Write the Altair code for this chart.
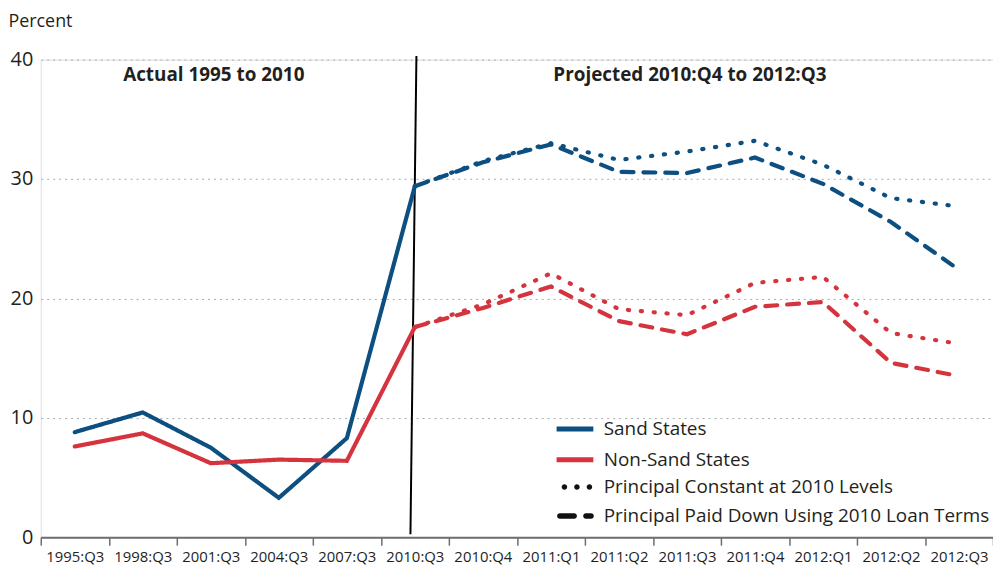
import altair as alt
import pandas as pd

categories = ["1995:Q3", "1998:Q3", "2001:Q3", "2004:Q3", "2007:Q3", "2010:Q3",
              "2010:Q4", "2011:Q1", "2011:Q2", "2011:Q3", "2011:Q4", "2012:Q1",
              "2012:Q2", "2012:Q3"]
actual_periods = categories[:6]
projected_periods = categories[5:]

sand_actual = [8.8, 10.45, 7.5, 3.3, 8.3, 29.4]
nonsand_actual = [7.6, 8.7, 6.2, 6.5, 6.4, 17.6]
sand_constant = [29.4, 31.5, 33.0, 31.6, 32.3, 33.2, 31.2, 28.4, 27.7]
sand_paid = [29.4, 31.4, 32.9, 30.6, 30.5, 31.8, 29.6, 26.4, 22.4]
nonsand_constant = [17.6, 19.5, 22.1, 19.1, 18.6, 21.3, 21.8, 17.1, 16.2]
nonsand_paid = [17.6, 19.2, 21.0, 18.1, 17.0, 19.3, 19.7, 14.6, 13.5]

regions = ["Sand States", "Non-Sand States"]
region_colors = ["#0c4f80", "#d5333e"]
styles = ["Actual", "Principal Constant at 2010 Levels",
          "Principal Paid Down Using 2010 Loan Terms"]

annotations = ["Actual 1995 to 2010", "Projected 2010:Q4 to 2012:Q3"]
annotation_periods = ["2001:Q3", "2011:Q3"]
annotation_y = [38.7, 38.7]

divider_x = [4.935, 5.023]   # bottom, top (category index units)
divider_y = [0.25, 40.3]

TEXT = "#231f20"
FONT = "Open Sans"


def dots_path(centers, r):
    parts = []
    for c in centers:
        parts.append("M%.3f,0A%.3f,%.3f 0 1,0 %.3f,0A%.3f,%.3f 0 1,0 %.3f,0Z"
                     % (c - r, r, r, c + r, r, r, c - r))
    return "".join(parts)


def dashes_path(spans, r):
    parts = []
    for x0, x1 in spans:
        parts.append("M%.3f,%.3fL%.3f,%.3fA%.3f,%.3f 0 0,1 %.3f,%.3fL%.3f,%.3fA%.3f,%.3f 0 0,1 %.3f,%.3fZ"
                     % (x0 + r, -r, x1 - r, -r, r, r, x1 - r, r, x0 + r, r, r, r, x0 + r, -r))
    return "".join(parts)


legend_dots = dots_path([-0.6, 0.08, 0.76], 0.15)
legend_dashes = dashes_path([(-1.0, 0.08), (0.42, 1.0)], 0.15)

rows = []
def add(periods, values, region, style):
    for p, v in zip(periods, values):
        rows.append({"idx": categories.index(p), "period": p, "value": v,
                     "region": region, "style": style})

add(actual_periods, sand_actual, "Sand States", styles[0])
add(actual_periods, nonsand_actual, "Non-Sand States", styles[0])
add(projected_periods, sand_constant, "Sand States", styles[1])
add(projected_periods, sand_paid, "Sand States", styles[2])
add(projected_periods, nonsand_constant, "Non-Sand States", styles[1])
add(projected_periods, nonsand_paid, "Non-Sand States", styles[2])
df = pd.DataFrame(rows)
proj_df = df[df["style"] != styles[0]]

ann_df = pd.DataFrame({"idx": [categories.index(p) for p in annotation_periods],
                       "y": annotation_y, "text": annotations})
div_df = pd.DataFrame({"x": [divider_x[0]], "x2": [divider_x[1]],
                       "y": [divider_y[0]], "y2": [divider_y[1]]})

xscale = alt.Scale(domain=[-0.5, len(categories) - 0.5], nice=False, zero=False)
yscale = alt.Scale(domain=[0, 40], nice=False)

label_expr = "[" + ",".join("'%s'" % c for c in categories) + "][datum.value]"

label_axis = alt.Axis(orient="bottom", values=list(range(len(categories))),
                      labelExpr=label_expr, ticks=False, domain=False, grid=False,
                      labelFont=FONT, labelFontSize=15, labelColor=TEXT,
                      labelPadding=12, title=None, labelFlush=False,
                      labelOverlap=False)
tick_axis = alt.Axis(orient="bottom", values=[i - 0.5 for i in range(len(categories) + 1)],
                     labels=False, ticks=True, tickSize=8, tickColor="#6d6e70",
                     tickWidth=1.5, domain=True, domainColor="#6d6e70",
                     domainWidth=2, grid=False, title=None)

y_axis = alt.Axis(values=[0, 10, 20, 30, 40], grid=True, gridDash=[2, 4],
                  gridColor="#a7a9ac", gridWidth=1, domain=False, ticks=False,
                  labelFont=FONT, labelFontSize=20, labelColor=TEXT,
                  labelPadding=8, title="Percent", titleAngle=0,
                  titleAlign="left", titleBaseline="alphabetic", titleX=-33,
                  titleY=-33, titleFont=FONT, titleFontSize=18,
                  titleFontWeight="normal", titleColor=TEXT)

lines = alt.Chart(df).mark_line(strokeWidth=4.2, strokeCap="round", clip=False).encode(
    x=alt.X("idx:Q", scale=xscale, axis=label_axis),
    y=alt.Y("value:Q", scale=yscale, axis=y_axis),
    color=alt.Color("region:N", scale=alt.Scale(domain=regions, range=region_colors),
                    legend=alt.Legend(orient="none", legendX=517, legendY=351,
                                      title=None, symbolType="stroke",
                                      symbolSize=1369, symbolStrokeWidth=5,
                                      labelFont=FONT, labelFontSize=19,
                                      labelColor=TEXT, rowPadding=0,
                                      labelOffset=8, padding=0, labelLimit=0)),
    strokeDash=alt.StrokeDash("style:N",
                              scale=alt.Scale(domain=styles,
                                              range=[[1, 0], [1.2, 11.8], [12, 10]]),
                              legend=None),
    detail="style:N",
    order="idx:Q",
)

# invisible points that carry the line-style legend (dot / dash symbols)
style_key = alt.Chart(proj_df).mark_point(filled=True, opacity=0, color="#111111").encode(
    x=alt.X("idx:Q", scale=xscale, axis=None),
    y=alt.Y("value:Q", scale=yscale, axis=None),
    shape=alt.Shape("style:N",
                    scale=alt.Scale(domain=styles[1:], range=[legend_dots, legend_dashes]),
                    legend=alt.Legend(orient="none", legendX=520, legendY=412,
                                      title=None, symbolSize=1369,
                                      symbolFillColor="#111111",
                                      symbolStrokeWidth=0, symbolOpacity=1,
                                      labelFont=FONT, labelFontSize=19,
                                      labelColor=TEXT, rowPadding=0,
                                      labelOffset=10, padding=0, labelLimit=0)),
)

divider = alt.Chart(div_df).mark_rule(color="#000000", strokeWidth=2, clip=False).encode(
    x=alt.X("x:Q", scale=xscale, axis=tick_axis),
    x2="x2:Q",
    y=alt.Y("y:Q", scale=yscale, axis=None),
    y2="y2:Q",
)

texts = alt.Chart(ann_df).mark_text(font=FONT, fontSize=19, fontWeight="bold",
                                    color=TEXT, baseline="middle", align="center",
                                    dx=3).encode(
    x=alt.X("idx:Q", scale=xscale, axis=None),
    y=alt.Y("y:Q", scale=yscale, axis=None),
    text="text:N",
)

chart = alt.layer(divider, lines, style_key, texts).resolve_axis(
    x="independent", y="independent"
).properties(
    width=959, height=481,
    autosize=alt.AutoSizeParams(type="none"),
    padding={"left": 33, "top": 50, "right": 0, "bottom": 30},
).configure_view(stroke=None).configure(background="white")

chart.save("out.html", embed_options={"renderer": "svg", "actions": False})
